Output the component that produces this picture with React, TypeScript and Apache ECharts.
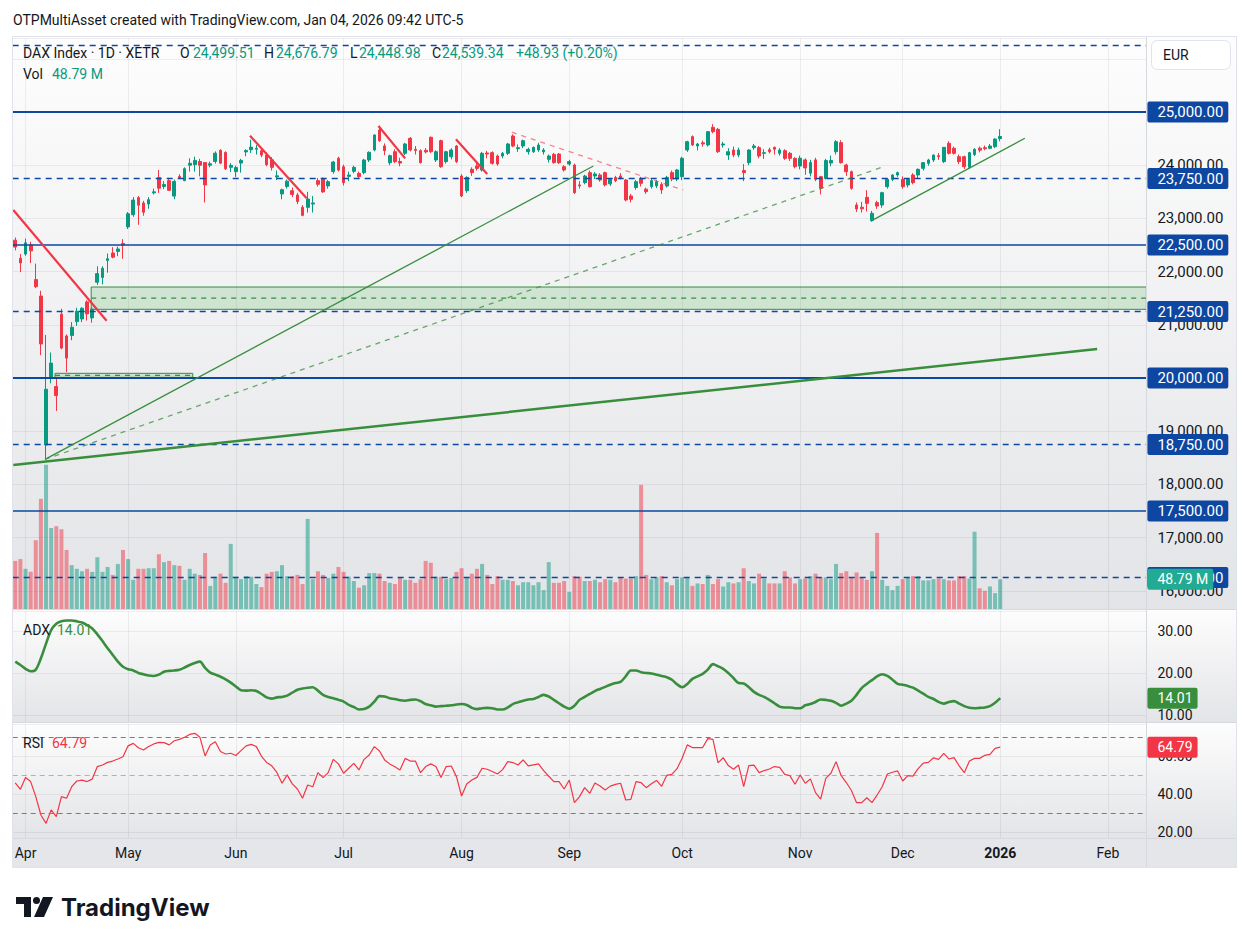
import { useEffect, useRef } from 'react';
import * as echarts from 'echarts';

// ---------- look ----------
const FONT = 'Roboto, "Noto Sans", "DejaVu Sans", sans-serif';
const TEXT = '#131722';
const UP = '#089981';
const DOWN = '#f23645';
const VOL_UP = 'rgba(8,153,129,0.5)';
const VOL_DOWN = 'rgba(242,54,69,0.5)';
const LEVEL_BLUE = '#0d47a1';
const GREEN = '#388e3c';
const GRID_LINE = 'rgba(42,46,57,0.07)';

// ---------- calendar ----------
const FIRST_SESSION = '2025-03-28';
const SLOT_COUNT = 221; // visible daily slots, including empty future sessions
const XETRA_HOLIDAYS = [
  '2025-04-18', '2025-04-21', '2025-05-01', '2025-12-24', '2025-12-25',
  '2025-12-26', '2025-12-31', '2026-01-01',
];
const MONTH_LABELS: Record<string, string> = {
  '2025-04-01': 'Apr', '2025-05-02': 'May', '2025-06-02': 'Jun', '2025-07-01': 'Jul',
  '2025-08-01': 'Aug', '2025-09-01': 'Sep', '2025-10-01': 'Oct', '2025-11-03': 'Nov',
  '2025-12-01': 'Dec', '2026-01-02': '2026', '2026-02-02': 'Feb',
};
const YEAR_START = '2026-01-02';

// ---------- DAX daily candles: open, high, low, close ----------
const CANDLES: [number, number, number, number][] = [
  [22590, 22640, 22400, 22461], [22250, 22330, 21990, 22163], [22330, 22620, 22300, 22540],
  [22500, 22560, 22160, 22390], [21850, 22150, 21690, 21717], [21540, 21640, 20430, 20641],
  [18740, 20810, 18490, 19789], [20010, 20480, 19900, 20280], [19840, 20020, 19380, 19670],
  [21200, 21300, 20540, 20562], [20790, 20820, 20110, 20374], [20800, 21050, 20710, 20954],
  [21060, 21320, 20980, 21254], [21110, 21330, 21050, 21311], [21430, 21460, 21080, 21205],
  [21130, 21330, 21040, 21294], [21800, 22100, 21750, 21962], [21890, 22100, 21760, 22064],
  [22210, 22340, 21980, 22242], [22350, 22460, 22250, 22272], [22380, 22470, 22290, 22425],
  [22530, 22610, 22240, 22497], [22840, 23120, 22800, 23087], [23070, 23400, 23030, 23345],
  [23390, 23420, 22880, 23249], [23290, 23330, 23050, 23116], [23270, 23400, 23180, 23352],
  [23480, 23560, 23450, 23499], [23770, 23910, 23480, 23567], [23600, 23700, 23550, 23638],
  [23710, 23760, 23520, 23527], [23420, 23730, 23360, 23695], [23790, 23830, 23740, 23767],
  [23710, 23960, 23700, 23935], [24000, 24130, 23880, 24036], [24010, 24160, 23880, 24090],
  [24070, 24120, 23790, 23999], [24050, 24060, 23300, 23630], [24000, 24070, 23960, 24028],
  [24070, 24260, 24030, 24226], [24280, 24300, 24020, 24039], [24240, 24260, 23910, 23933],
  [23960, 24040, 23870, 23997], [23880, 23990, 23780, 23955], [24040, 24120, 23860, 24091],
  [24250, 24300, 24170, 24276], [24290, 24479, 24230, 24340], [24300, 24380, 24200, 24320],
  [24270, 24310, 24150, 24190], [24190, 24240, 23980, 24010], [24100, 24150, 23900, 23960],
  [23780, 23900, 23720, 23800], [23460, 23560, 23360, 23540], [23600, 23730, 23560, 23700],
  [23520, 23580, 23400, 23450], [23440, 23480, 23270, 23317], [23208, 23250, 23040, 23057],
  [23208, 23500, 23110, 23365], [23270, 23420, 23110, 23290], [23710, 23760, 23600, 23641],
  [23750, 23770, 23480, 23498], [23610, 23720, 23560, 23690], [23880, 24080, 23840, 24060],
  [24130, 24160, 23880, 23909], [23970, 24010, 23620, 23673], [23790, 23880, 23700, 23816],
  [23885, 23990, 23850, 23960], [23847, 23880, 23740, 23787], [23860, 24120, 23830, 24098],
  [24098, 24260, 24060, 24242], [24286, 24580, 24260, 24568], [24662, 24740, 24440, 24461],
  [24361, 24410, 24190, 24273], [24048, 24200, 24000, 24179], [24254, 24300, 24040, 24067],
  [24070, 24140, 23980, 24040], [24223, 24420, 24190, 24399], [24505, 24530, 24260, 24286],
  [24300, 24360, 24200, 24280], [24273, 24300, 24030, 24048], [24280, 24320, 24220, 24250],
  [24524, 24540, 24230, 24254], [24098, 24280, 24060, 24254], [24461, 24480, 23950, 23972],
  [24067, 24270, 24030, 24254], [24160, 24320, 24110, 24286], [24361, 24380, 24040, 24067],
  [23797, 23830, 23400, 23421], [23521, 23790, 23480, 23772], [23922, 23960, 23800, 23860],
  [23985, 24040, 23900, 23940], [23910, 24250, 23880, 24223], [24230, 24270, 24130, 24210],
  [24236, 24260, 24010, 24035], [24173, 24200, 23990, 24023], [24173, 24250, 24130, 24223],
  [24223, 24420, 24190, 24399], [24549, 24580, 24340, 24361], [24310, 24390, 24250, 24330],
  [24361, 24480, 24320, 24461], [24254, 24330, 24200, 24298], [24254, 24350, 24230, 24336],
  [24286, 24420, 24250, 24380], [24250, 24320, 24200, 24286], [24110, 24200, 24050, 24173],
  [24204, 24230, 24030, 24048], [24210, 24230, 24020, 24048], [23972, 24000, 23880, 23910],
  [24023, 24100, 23990, 24067], [24004, 24030, 23460, 23484], [23630, 23700, 23560, 23610],
  [23672, 23820, 23640, 23797], [23860, 23900, 23580, 23597], [23797, 23870, 23740, 23835],
  [23816, 23850, 23690, 23722], [23860, 23880, 23600, 23630], [23650, 23760, 23610, 23735],
  [23770, 23800, 23680, 23709], [23797, 23850, 23730, 23753], [23722, 23740, 23320, 23346],
  [23421, 23460, 23300, 23359], [23580, 23720, 23540, 23690], [23753, 23780, 23600, 23659],
  [23550, 23580, 23460, 23503], [23600, 23740, 23560, 23709], [23610, 23720, 23570, 23690],
  [23640, 23680, 23460, 23534], [23609, 23800, 23580, 23772], [23860, 23900, 23700, 23740],
  [23740, 23930, 23700, 23910], [23784, 24160, 23720, 24129], [24286, 24460, 24250, 24442],
  [24537, 24560, 24360, 24380], [24361, 24420, 24280, 24399], [24420, 24460, 24350, 24400],
  [24380, 24640, 24350, 24630], [24712, 24771, 24600, 24630], [24674, 24700, 24230, 24254],
  [24380, 24440, 24330, 24399], [24192, 24320, 24100, 24254], [24286, 24350, 24150, 24192],
  [24192, 24330, 24150, 24286], [23900, 24020, 23700, 23860], [24048, 24300, 24000, 24286],
  [24330, 24400, 24290, 24361], [24330, 24360, 24130, 24173], [24223, 24300, 24120, 24236],
  [24290, 24330, 24220, 24254], [24336, 24350, 24200, 24300], [24223, 24320, 24180, 24286],
  [24273, 24300, 24100, 24129], [24223, 24250, 24080, 24129], [24129, 24150, 23940, 23972],
  [23985, 24180, 23920, 24132], [24100, 24130, 23820, 23949], [23850, 24100, 23790, 24050],
  [24100, 24140, 23700, 23734], [23785, 23800, 23450, 23570], [23750, 24120, 23730, 24088],
  [24040, 24180, 23980, 24088], [24254, 24470, 24200, 24442], [24424, 24470, 24030, 24048],
  [24004, 24030, 23800, 23878], [23878, 23900, 23540, 23565], [23252, 23300, 23120, 23177],
  [23210, 23310, 23110, 23180], [23396, 23530, 23130, 23283], [22958, 23140, 22937, 23095],
  [23296, 23330, 23180, 23233], [23252, 23500, 23200, 23484], [23597, 23750, 23560, 23734],
  [23734, 23830, 23700, 23816], [23816, 23880, 23780, 23860], [23734, 23790, 23560, 23597],
  [23628, 23760, 23580, 23734], [23816, 23850, 23640, 23672], [23816, 23940, 23760, 23922],
  [23941, 24060, 23900, 24048], [24035, 24120, 23990, 24098], [24098, 24200, 24060, 24192],
  [24180, 24230, 24100, 24160], [24067, 24340, 24040, 24336], [24411, 24450, 24200, 24223],
  [24317, 24350, 24200, 24223], [24160, 24200, 24020, 24067], [24160, 24180, 23930, 23972],
  [23960, 24250, 23930, 24236], [24200, 24320, 24170, 24298], [24320, 24350, 24240, 24283],
  [24330, 24370, 24280, 24310], [24317, 24400, 24300, 24361], [24348, 24510, 24320, 24490.41],
  [24499.51, 24676.79, 24448.98, 24539.34],
];

// ---------- volume, millions ----------
const VOLUME_M = [
  79, 82, 66, 61, 113, 181, 237, 133, 136, 131,
  97, 72, 66, 62, 66, 61, 85, 61, 69, 56,
  74, 97, 82, 48, 66, 66, 67, 67, 90, 77,
  79, 72, 71, 48, 66, 58, 56, 92, 38, 53,
  58, 43, 107, 53, 49, 54, 53, 41, 36, 58,
  61, 62, 72, 54, 54, 56, 41, 148, 49, 62,
  56, 51, 58, 69, 61, 53, 46, 35, 39, 59,
  59, 58, 46, 43, 41, 51, 48, 48, 43, 49,
  79, 76, 53, 53, 49, 51, 61, 67, 51, 58,
  66, 74, 56, 41, 54, 48, 48, 46, 39, 44,
  44, 39, 44, 31, 77, 43, 43, 46, 28, 54,
  53, 46, 46, 48, 44, 49, 48, 44, 51, 50,
  50, 54, 204, 56, 49, 52, 54, 44, 39, 49,
  52, 52, 38, 42, 41, 56, 41, 49, 37, 44,
  42, 44, 67, 46, 42, 58, 50, 42, 42, 42,
  62, 52, 42, 49, 50, 54, 58, 52, 52, 49,
  74, 59, 62, 52, 60, 52, 48, 62, 125, 48,
  38, 31, 38, 49, 52, 54, 54, 47, 47, 49,
  50, 49, 47, 47, 54, 54, 50, 127, 34, 30,
  37, 26, 48.79,
];

// ---------- ADX (14) ----------
const ADX = [
  22.7, 21.9, 21.0, 20.4, 20.8, 23.5, 27.0, 30.2, 31.7, 32.3,
  32.5, 32.5, 32.3, 32.0, 31.4, 30.6, 29.2, 27.6, 25.9, 24.3,
  22.7, 21.5, 20.9, 20.6, 20.0, 19.7, 19.4, 19.3, 19.6, 20.3,
  20.5, 20.6, 20.8, 21.3, 21.9, 22.4, 22.7, 21.2, 20.1, 19.6,
  19.1, 18.5, 17.7, 16.8, 15.9, 15.8, 15.9, 15.7, 15.0, 14.2,
  13.9, 14.2, 14.3, 14.6, 15.3, 16.0, 16.3, 16.5, 16.6, 15.8,
  14.8, 14.3, 14.0, 13.6, 13.2, 12.4, 11.9, 11.3, 11.4, 12.0,
  13.2, 14.5, 14.4, 14.0, 13.8, 13.5, 13.4, 13.6, 13.7, 13.3,
  12.6, 12.3, 12.0, 12.1, 12.2, 12.3, 12.5, 12.6, 12.4, 11.7,
  11.4, 11.6, 11.7, 11.6, 11.3, 11.3, 11.8, 12.6, 13.0, 13.4,
  13.7, 13.8, 14.3, 14.8, 14.4, 13.6, 12.8, 12.0, 11.5, 12.2,
  13.6, 14.3, 15.0, 15.7, 16.2, 16.7, 17.2, 17.6, 17.9, 19.2,
  20.6, 20.6, 20.2, 20.0, 19.9, 19.6, 19.3, 19.0, 18.4, 17.3,
  16.6, 17.4, 18.6, 19.2, 19.8, 20.8, 22.1, 21.6, 21.0, 20.0,
  18.8, 17.6, 17.5, 16.6, 15.5, 14.8, 14.3, 13.6, 12.8, 12.0,
  11.8, 11.8, 11.6, 11.6, 12.3, 12.6, 13.1, 13.7, 13.6, 13.4,
  12.9, 12.2, 12.7, 13.4, 14.8, 16.4, 17.4, 18.3, 19.2, 19.7,
  19.3, 18.4, 17.4, 17.2, 16.9, 16.5, 15.8, 15.1, 14.3, 13.8,
  13.1, 12.7, 13.1, 13.3, 12.7, 12.1, 11.7, 11.6, 11.7, 11.8,
  12.1, 12.9, 14.01,
];

// ---------- RSI (14) ----------
const RSI = [
  46.0, 42.6, 48.8, 46.7, 38.8, 29.1, 24.7, 31.8, 28.2, 38.8,
  37.9, 44.0, 47.0, 47.5, 46.7, 48.0, 54.6, 55.4, 56.8, 57.5,
  58.6, 59.8, 65.5, 66.8, 64.5, 63.3, 65.2, 66.5, 67.3, 67.2,
  66.0, 68.2, 68.9, 70.0, 71.5, 72.1, 70.0, 60.2, 66.0, 67.7,
  62.5, 61.2, 61.6, 60.4, 63.0, 65.5, 66.3, 65.1, 60.0, 56.8,
  55.0, 51.5, 45.8, 50.2, 45.5, 42.8, 37.9, 44.9, 44.0, 51.4,
  48.8, 51.4, 58.4, 56.0, 51.1, 53.7, 56.3, 52.8, 58.4, 60.7,
  65.1, 62.8, 58.1, 56.0, 54.5, 52.8, 58.9, 57.5, 57.5, 51.4,
  54.6, 56.0, 54.6, 48.8, 54.6, 54.9, 49.3, 39.1, 45.4, 47.5,
  48.9, 53.7, 53.2, 52.0, 50.7, 53.0, 57.2, 56.7, 55.4, 58.1,
  55.0, 55.5, 56.0, 52.5, 49.5, 46.7, 46.7, 42.8, 47.5, 35.6,
  38.8, 43.5, 40.5, 46.0, 44.4, 42.3, 44.3, 45.2, 45.8, 37.0,
  37.3, 46.7, 46.1, 43.5, 45.5, 47.3, 44.2, 50.0, 50.5, 53.5,
  59.0, 66.0, 64.6, 64.6, 64.6, 69.3, 68.9, 56.5, 59.3, 55.1,
  53.2, 55.4, 44.0, 55.1, 55.4, 51.4, 52.5, 53.3, 54.6, 54.2,
  50.5, 49.8, 45.3, 50.2, 45.8, 48.1, 40.9, 37.5, 48.4, 51.1,
  57.2, 49.8, 46.2, 42.0, 35.6, 35.6, 38.2, 35.6, 39.6, 44.0,
  50.7, 51.6, 52.3, 47.0, 49.8, 49.6, 53.5, 56.4, 56.8, 59.2,
  58.4, 61.5, 58.6, 59.3, 55.0, 51.4, 57.5, 58.9, 58.9, 60.5,
  61.0, 64.2, 64.79,
];

// ---------- drawings (bar index, price) ----------
const LEVELS_SOLID = [25000, 22500, 20000, 17500];
const LEVELS_DASHED = [26250, 23750, 21250, 18750, 16250];
const RED_TRENDS: [number, number][][] = [
  [[-0.38, 23158], [17.8, 21077]],
  [[45.76, 24554], [56.8, 23377]],
  [[70.8, 24737], [76.0, 24129]],
  [[85.9, 24488], [92.0, 23835]],
];
const RED_DASHED_TREND: [number, number][] = [[96.8, 24620], [130.2, 23534]];
const GREEN_TRENDS: [number, number][][] = [
  [[5.8, 18471], [112.7, 23985]],
  [[167.4, 22983], [196.8, 24506]],
];
const GREEN_DASHED_TREND: [number, number][] = [[5.8, 18471], [168.9, 23960]];
const GREEN_LONG_TREND: [number, number][] = [[-0.38, 18364], [210.9, 20544]];
const ZONES = [
  { from: 14.8, to: 220.5, low: 21291, high: 21710 },
  { from: 7.75, to: 34.6, low: 20012, high: 20088 },
];

// ---------- scale ranges ----------
const PRICE_MIN = 15658;
const PRICE_MAX = 26391;
const VOLUME_MAX = 938;
const ADX_MIN = 8.33;
const ADX_MAX = 34.76;
const RSI_MIN = 17;
const RSI_MAX = 77;

const PLOT_LEFT = 12.7;
const PLOT_WIDTH = 1133.7;

echarts.graphic.registerShape(
  'tvLogo',
  echarts.graphic.extendPath(
    'M0 0H15V20H8V7H0Z M24 3.5A3.5 3.5 0 1 1 17 3.5A3.5 3.5 0 1 1 24 3.5Z M27 0H37L28 20H18Z',
    {}
  )
);

function tradingSessions(first: string, count: number): string[] {
  const out: string[] = [];
  const day = new Date(`${first}T12:00:00Z`);
  while (out.length < count) {
    const iso = day.toISOString().slice(0, 10);
    const wd = day.getUTCDay();
    if (wd !== 0 && wd !== 6 && !XETRA_HOLIDAYS.includes(iso)) out.push(iso);
    day.setUTCDate(day.getUTCDate() + 1);
  }
  return out;
}

const fmt2 = (v: number) =>
  v.toLocaleString('en-US', { minimumFractionDigits: 2, maximumFractionDigits: 2 });

const isStep = (v: number, step: number) => Math.abs(v / step - Math.round(v / step)) < 1e-6;

// axis prices that sit under a solid level tag or the currency box
const priceTickHidden = (v: number) => LEVELS_SOLID.includes(v) || v > 25500;

function text(x: number, y: number, s: string, color = TEXT, size = 14, weight: any = 'normal', family = FONT) {
  return {
    type: 'text', z: 100, silent: true, x, y,
    style: {
      text: s, fill: color, fontSize: size, fontWeight: weight, fontFamily: family,
      align: 'left', verticalAlign: 'middle', textAlign: 'left', textVerticalAlign: 'middle',
    },
  };
}

function paneGradient() {
  return new echarts.graphic.LinearGradient(0, 0, 0, 1, [
    { offset: 0, color: '#fdfdfd' },
    { offset: 1, color: '#e3e4e7' },
  ]);
}

function valueLabel(bg: string, size = 14) {
  return {
    show: true, position: 'end', distance: 1, color: '#ffffff', backgroundColor: bg,
    padding: [3, 5, 3, 10], borderRadius: 2, fontSize: size, lineHeight: 15, fontFamily: FONT,
  };
}

const HIDDEN_LINE = { width: 0, color: 'rgba(0,0,0,0)' };

function buildOption() {
  const dates = tradingSessions(FIRST_SESSION, SLOT_COUNT);
  const n = CANDLES.length;
  const last = CANDLES[n - 1];
  const prevClose = CANDLES[n - 2][3];
  const change = last[3] - prevClose;
  const changePct = (change / prevClose) * 100;
  const sign = change >= 0 ? '+' : '';
  const lastVol = VOLUME_M[n - 1];
  const lastAdx = ADX[n - 1];
  const lastRsi = RSI[n - 1];
  const monthDates = Object.keys(MONTH_LABELS);

  const grid = (top: number, height: number) => ({
    left: PLOT_LEFT, width: PLOT_WIDTH, top, height, show: false,
    containLabel: false, outerBoundsMode: 'none',
  });

  const catAxis = (gridIndex: number, labels: boolean) => ({
    type: 'category', gridIndex, data: dates, boundaryGap: true,
    axisLine: { show: false }, axisTick: { show: false }, splitLine: { show: false },
    axisPointer: { show: false },
    axisLabel: labels
      ? {
          show: true, margin: 8, color: TEXT, fontSize: 14, fontFamily: FONT,
          interval: (_i: number, v: string) => v in MONTH_LABELS,
          formatter: (v: string) =>
            v in MONTH_LABELS ? (v === YEAR_START ? `{y|${MONTH_LABELS[v]}}` : MONTH_LABELS[v]) : '',
          rich: { y: { fontWeight: 'bold', fontSize: 14, color: TEXT, fontFamily: FONT } },
        }
      : { show: false },
  });

  const valAxis = (
    gridIndex: number, min: number, max: number, step: number,
    format: (v: number) => string, size = 14, hide: (v: number) => boolean = () => false
  ) => ({
    type: 'value', gridIndex, position: 'right', min, max, minInterval: step, maxInterval: step,
    axisLine: { show: false }, axisTick: { show: false },
    axisLabel: {
      show: true, margin: 11, color: TEXT, fontSize: size, fontFamily: FONT,
      formatter: (v: number) => (isStep(v, step) && !hide(v) ? format(v) : ''),
    },
    splitLine: { show: true, lineStyle: { color: GRID_LINE, width: 1 } },
  });

  const monthLines = (xAxisIndex: number, yAxisIndex: number) => ({
    type: 'line', xAxisIndex, yAxisIndex, data: [], z: 1, silent: true, symbol: 'none',
    markLine: {
      silent: true, symbol: ['none', 'none'], animation: false,
      label: { show: false },
      lineStyle: { color: GRID_LINE, width: 1, type: 'solid' },
      data: monthDates.map((d) => ({ xAxis: d })),
    },
  });

  const levelItems = [
    ...LEVELS_SOLID.map((p) => ({
      yAxis: p,
      lineStyle: { color: LEVEL_BLUE, type: 'solid', width: p === 25000 || p === 20000 ? 2.2 : 1.5 },
      label: { ...valueLabel(LEVEL_BLUE, 15), formatter: fmt2(p) },
    })),
    ...LEVELS_DASHED.map((p) => ({
      yAxis: p,
      lineStyle: { color: LEVEL_BLUE, type: [6, 5], width: 1.3 },
      label: p === 26250 ? { show: false } : { ...valueLabel(LEVEL_BLUE, 15), formatter: fmt2(p) },
    })),
  ];

  const trend = (pts: [number, number][], color: string, width: number, type: any, z = 6) => ({
    type: 'line', xAxisIndex: 3, yAxisIndex: 0, data: pts, symbol: 'none', silent: true, z,
    lineStyle: { color, width, type },
  });

  const tagSeries = (xAxisIndex: number, yAxisIndex: number, value: number, bg: string, label: string) => ({
    type: 'line', xAxisIndex, yAxisIndex, data: [], z: 7, silent: true, symbol: 'none',
    markLine: {
      silent: true, symbol: ['none', 'none'], animation: false,
      data: [{ yAxis: value, lineStyle: HIDDEN_LINE, label: { ...valueLabel(bg), formatter: label } }],
    },
  });

  const series: any[] = [
    monthLines(0, 0),
    monthLines(1, 2),
    monthLines(2, 3),
    {
      type: 'bar', xAxisIndex: 0, yAxisIndex: 1, z: 2, silent: true, barWidth: 4,
      data: VOLUME_M.map((v, i) => ({
        value: v,
        itemStyle: { color: CANDLES[i][3] >= CANDLES[i][0] ? VOL_UP : VOL_DOWN },
      })),
    },
    {
      type: 'candlestick', xAxisIndex: 0, yAxisIndex: 0, z: 4, silent: true, barWidth: 3.2,
      data: CANDLES.map(([o, h, l, c]) => [o, c, l, h]),
      itemStyle: { color: UP, color0: DOWN, borderColor: UP, borderColor0: DOWN, borderWidth: 1 },
    },
    {
      type: 'line', xAxisIndex: 0, yAxisIndex: 0, data: [], z: 5, silent: true, symbol: 'none',
      markLine: { silent: true, symbol: ['none', 'none'], animation: false, data: levelItems },
    },
    {
      type: 'line', xAxisIndex: 3, yAxisIndex: 0, data: [], z: 3, silent: true, symbol: 'none',
      markArea: {
        silent: true, label: { show: false },
        itemStyle: { color: 'rgba(76,175,80,0.2)', borderColor: GREEN, borderWidth: 1 },
        data: ZONES.map((zn) => [{ coord: [zn.from, zn.high] }, { coord: [zn.to, zn.low] }]),
      },
    },
    ...ZONES.map((zn) =>
      trend([[zn.from, (zn.low + zn.high) / 2], [zn.to, (zn.low + zn.high) / 2]], GREEN, 1.2, [5, 5], 3)
    ),
    ...RED_TRENDS.map((pts) => trend(pts, DOWN, 2.2, 'solid')),
    trend(RED_DASHED_TREND, 'rgba(242,54,69,0.6)', 1.3, [5, 5]),
    ...GREEN_TRENDS.map((pts) => trend(pts, GREEN, 1.3, 'solid')),
    trend(GREEN_DASHED_TREND, 'rgba(56,142,60,0.75)', 1.3, [5, 5]),
    trend(GREEN_LONG_TREND, GREEN, 2.5, 'solid'),
    tagSeries(0, 1, lastVol, '#22ab94', `${lastVol.toFixed(2)} M`),
    {
      type: 'line', xAxisIndex: 1, yAxisIndex: 2, data: ADX, z: 3, silent: true, symbol: 'none',
      smooth: 0.3, lineStyle: { color: GREEN, width: 2.6 },
    },
    tagSeries(1, 2, lastAdx, GREEN, lastAdx.toFixed(2)),
    {
      type: 'line', xAxisIndex: 2, yAxisIndex: 3, data: [], z: 2, silent: true, symbol: 'none',
      markLine: {
        silent: true, symbol: ['none', 'none'], animation: false, label: { show: false },
        data: [
          { yAxis: 70, lineStyle: { color: '#787b86', width: 1, type: [5, 4] } },
          { yAxis: 50, lineStyle: { color: 'rgba(120,123,134,0.55)', width: 1, type: [5, 4] } },
          { yAxis: 30, lineStyle: { color: '#787b86', width: 1, type: [5, 4] } },
        ],
      },
    },
    {
      type: 'line', xAxisIndex: 2, yAxisIndex: 3, data: RSI, z: 3, silent: true, symbol: 'none',
      lineStyle: { color: DOWN, width: 1.2 },
    },
    tagSeries(2, 3, lastRsi, DOWN, lastRsi.toFixed(2)),
  ];

  const graphic: any[] = [
    { type: 'rect', z: -100, silent: true, shape: { x: 12, y: 37, width: 1225, height: 573 }, style: { fill: paneGradient() } },
    { type: 'rect', z: -100, silent: true, shape: { x: 12, y: 610, width: 1225, height: 113 }, style: { fill: paneGradient() } },
    { type: 'rect', z: -100, silent: true, shape: { x: 12, y: 723, width: 1225, height: 116 }, style: { fill: paneGradient() } },
    { type: 'rect', z: -100, silent: true, shape: { x: 12, y: 839, width: 1225, height: 29 }, style: { fill: '#e5e6e9' } },
    { type: 'line', z: 50, silent: true, shape: { x1: 12, y1: 609.5, x2: 1237, y2: 609.5 }, style: { stroke: '#d5d8de', lineWidth: 1 } },
    { type: 'line', z: 50, silent: true, shape: { x1: 12, y1: 722.5, x2: 1237, y2: 722.5 }, style: { stroke: '#d5d8de', lineWidth: 1 } },
    { type: 'line', z: 50, silent: true, shape: { x1: 12, y1: 838.5, x2: 1237, y2: 838.5 }, style: { stroke: '#d5d8de', lineWidth: 1 } },
    { type: 'line', z: 50, silent: true, shape: { x1: 1146.5, y1: 37, x2: 1146.5, y2: 868 }, style: { stroke: '#d5d8de', lineWidth: 1 } },
    { type: 'rect', z: 50, silent: true, shape: { x: 12.5, y: 36.5, width: 1224, height: 831 }, style: { fill: 'none', stroke: '#e0e3eb', lineWidth: 1 } },
    // top caption
    text(13, 20, 'OTPMultiAsset created with TradingView.com, Jan 04, 2026 09:42 UTC-5'),
    // main legend
    text(23, 53, 'DAX Index · 1D · XETR'),
    text(180, 53, 'O'), text(193, 53, fmt2(last[0]), UP),
    text(264, 53, 'H'), text(276, 53, fmt2(last[1]), UP),
    text(350, 53, 'L'), text(359, 53, fmt2(last[2]), UP),
    text(432, 53, 'C'), text(442, 53, fmt2(last[3]), UP),
    text(516, 53, `${sign}${change.toFixed(2)} (${sign}${changePct.toFixed(2)}%)`, UP),
    text(23, 74, 'Vol'), text(52, 74, `${lastVol.toFixed(2)} M`, UP),
    // indicator legends
    text(23, 630, 'ADX'), text(57, 630, lastAdx.toFixed(2), GREEN),
    text(23, 743, 'RSI'), text(52, 743, lastRsi.toFixed(2), DOWN),
    // currency box
    { type: 'rect', z: 100, silent: true, shape: { x: 1151.5, y: 40.5, width: 79, height: 29, r: 6 }, style: { fill: '#ffffff', stroke: '#e0e3eb', lineWidth: 1 } },
    text(1163, 55, 'EUR'),
    // brand mark
    { type: 'tvLogo', z: 100, silent: true, x: 16, y: 897, style: { fill: TEXT } },
    text(61, 907, 'TradingView', TEXT, 24, 'bold', 'Inter, Roboto, sans-serif'),
  ];

  return {
    animation: false,
    backgroundColor: 'transparent',
    grid: [grid(38, 571), grid(611, 111), grid(724, 114)],
    xAxis: [
      catAxis(0, false),
      catAxis(1, false),
      catAxis(2, true),
      { type: 'value', gridIndex: 0, min: -0.5, max: SLOT_COUNT - 0.5, show: false },
    ],
    yAxis: [
      valAxis(0, PRICE_MIN, PRICE_MAX, 1000, fmt2, 15, priceTickHidden),
      { type: 'value', gridIndex: 0, min: 0, max: VOLUME_MAX, show: false, splitLine: { show: false } },
      valAxis(1, ADX_MIN, ADX_MAX, 10, (v) => v.toFixed(2)),
      valAxis(2, RSI_MIN, RSI_MAX, 20, (v) => v.toFixed(2)),
    ],
    series,
    graphic: { elements: graphic },
  };
}

export default function App() {
  const ref = useRef<HTMLDivElement>(null);
  useEffect(() => {
    if (!ref.current) return;
    const chart = echarts.init(ref.current, null, { renderer: 'svg' });
    chart.setOption(buildOption() as any);
    return () => chart.dispose();
  }, []);
  return (
    <div
      ref={ref}
      style={{ position: 'absolute', left: 0, top: 0, width: 1249, height: 944, background: '#ffffff' }}
    />
  );
}
